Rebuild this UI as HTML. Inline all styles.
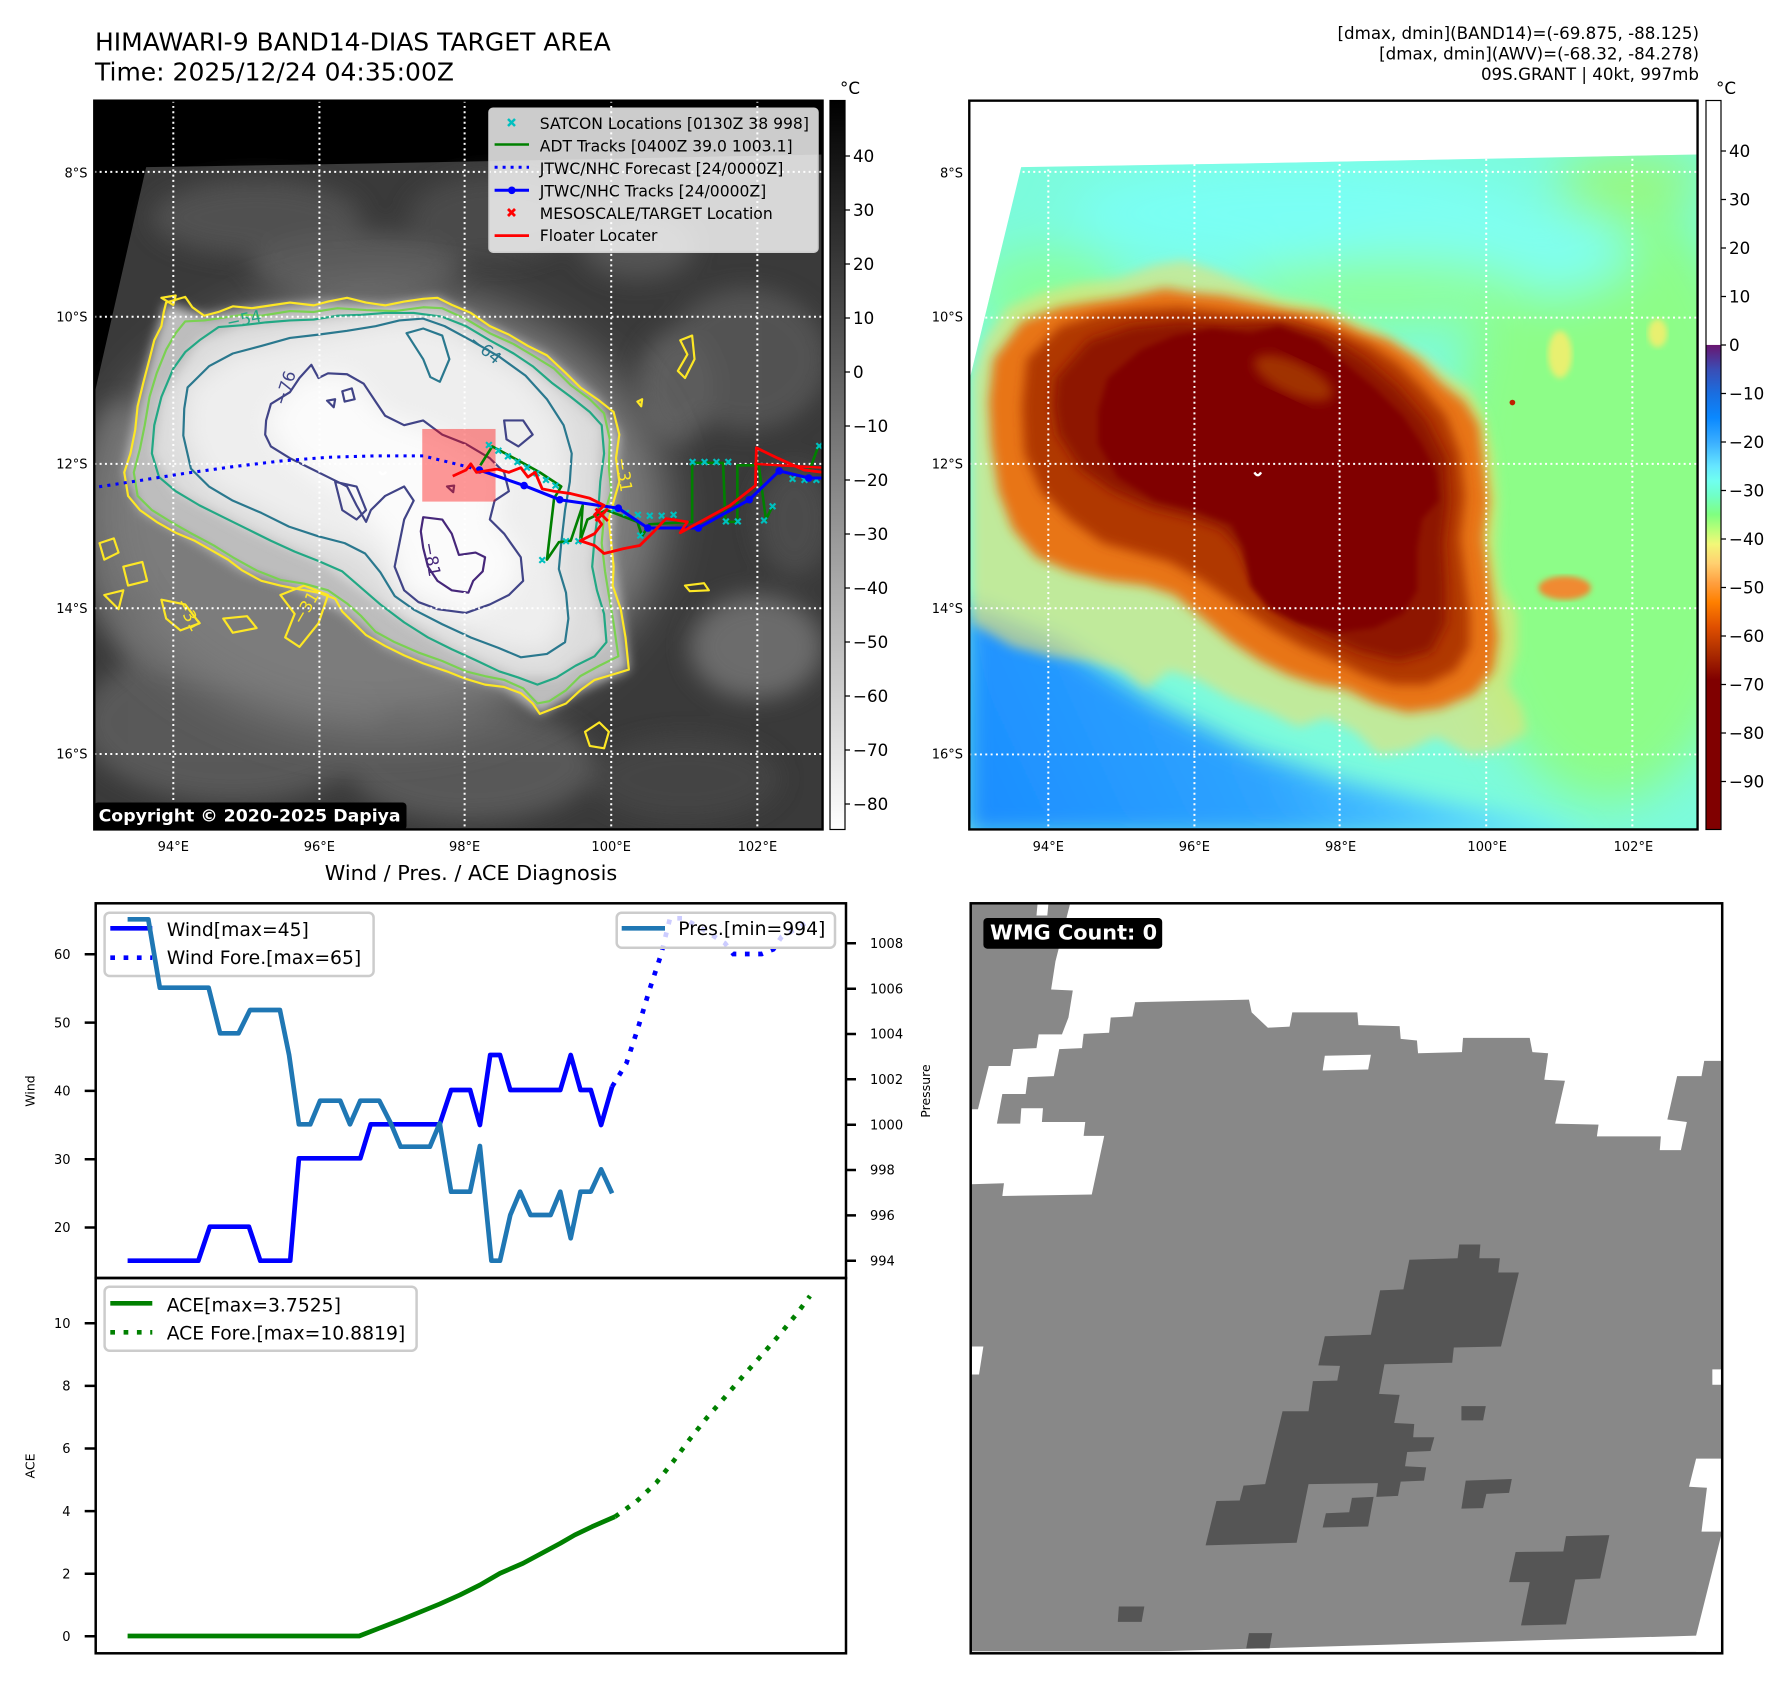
<!DOCTYPE html>
<html><head><meta charset="utf-8">
<style>
html,body{margin:0;padding:0;background:#fff;}
svg{display:block;}
text{font-family:"DejaVu Sans","Liberation Sans",sans-serif;}
</style></head><body>
<svg width="1788" height="1690" viewBox="0 0 1788 1690" xmlns="http://www.w3.org/2000/svg">
<defs>
 <clipPath id="clipM"><rect x="9" y="12" width="1530" height="1545"/></clipPath>
 <clipPath id="clipW"><rect x="57" y="27" width="1386" height="1466"/></clipPath>
 <filter id="b6" x="-10%" y="-10%" width="120%" height="120%"><feGaussianBlur stdDeviation="6"/></filter>
 <filter id="b12" x="-10%" y="-10%" width="120%" height="120%"><feGaussianBlur stdDeviation="12"/></filter>
 <filter id="b25" x="-20%" y="-20%" width="140%" height="140%"><feGaussianBlur stdDeviation="25"/></filter>
 <filter id="b50" x="-30%" y="-30%" width="160%" height="160%"><feGaussianBlur stdDeviation="50"/></filter>
 <linearGradient id="cbL" x1="0" y1="0" x2="0" y2="1"><stop offset="0" stop-color="#000"/><stop offset="1" stop-color="#fff"/></linearGradient>
 <linearGradient id="cbR" x1="0" y1="0" x2="0" y2="1">
  <stop offset="0" stop-color="#fff"/><stop offset="0.3350" stop-color="#fff"/>
  <stop offset="0.3354" stop-color="#6a1670"/><stop offset="0.3687" stop-color="#3a4db5"/>
  <stop offset="0.4019" stop-color="#1a6ee0"/><stop offset="0.4352" stop-color="#0a88ff"/>
  <stop offset="0.4684" stop-color="#3aaeff"/><stop offset="0.5017" stop-color="#66e6ff"/>
  <stop offset="0.5217" stop-color="#70fff0"/><stop offset="0.5416" stop-color="#70ffc8"/>
  <stop offset="0.5682" stop-color="#80ff80"/><stop offset="0.5882" stop-color="#b8ff78"/>
  <stop offset="0.6082" stop-color="#f2f878"/><stop offset="0.6348" stop-color="#ffd070"/>
  <stop offset="0.6614" stop-color="#ffa040"/><stop offset="0.6880" stop-color="#ff8000"/>
  <stop offset="0.7213" stop-color="#e05000"/><stop offset="0.7545" stop-color="#b03000"/>
  <stop offset="0.7944" stop-color="#800000"/><stop offset="1" stop-color="#800000"/>
 </linearGradient>
 <linearGradient id="blueG" gradientUnits="userSpaceOnUse" x1="0" y1="1557" x2="1100" y2="1050">
  <stop offset="0" stop-color="#1a8cff"/><stop offset="0.5" stop-color="#2ea4ff"/><stop offset="1" stop-color="#6ef0ff"/>
 </linearGradient>
</defs>

<!-- ================= TITLES ================= -->
<text x="95" y="50.7" font-size="25">HIMAWARI-9 BAND14-DIAS TARGET AREA</text>
<text x="95" y="80.7" font-size="25">Time: 2025/12/24 04:35:00Z</text>
<text x="1699" y="39" font-size="16.7" text-anchor="end">[dmax, dmin](BAND14)=(-69.875, -88.125)</text>
<text x="1699" y="59.5" font-size="16.7" text-anchor="end">[dmax, dmin](AWV)=(-68.32, -84.278)</text>
<text x="1699" y="80" font-size="16.7" text-anchor="end">09S.GRANT | 40kt, 997mb</text>
<text x="840" y="94" font-size="16.7">°C</text>
<text x="1716" y="94" font-size="16.7">°C</text>

<!-- ================= LEFT MAP ================= -->
<g transform="translate(90,95) scale(0.476,0.4717)">
 <g clip-path="url(#clipM)">
  <rect x="0" y="0" width="1600" height="1600" fill="#000"/>
  <polygon points="118,153 600,145 1000,137 1545,126 1545,1560 8,1560 8,640" fill="#3a3a3a"/>
  <g filter="url(#b25)" opacity="0.85">
   <ellipse cx="350" cy="260" rx="220" ry="80" fill="#555"/>
   <ellipse cx="560" cy="360" rx="220" ry="70" fill="#5e5e5e"/>
   <ellipse cx="850" cy="260" rx="180" ry="90" fill="#4e4e4e"/>
   <ellipse cx="1150" cy="320" rx="120" ry="70" fill="#595959"/>
   <ellipse cx="1380" cy="560" rx="170" ry="150" fill="#585858"/>
   <ellipse cx="1230" cy="620" rx="80" ry="120" fill="#636363"/>
   <ellipse cx="1400" cy="1170" rx="140" ry="110" fill="#747474"/>
   <ellipse cx="1480" cy="900" rx="80" ry="120" fill="#505050"/>
   <ellipse cx="300" cy="1330" rx="320" ry="170" fill="#5e5e5e"/>
   <ellipse cx="800" cy="1420" rx="260" ry="120" fill="#5e5e5e"/>
   <ellipse cx="1250" cy="1450" rx="200" ry="90" fill="#464646"/>
   <ellipse cx="60" cy="900" rx="80" ry="250" fill="#6a6a6a"/>
   <ellipse cx="300" cy="1150" rx="250" ry="90" fill="#707070"/>
  </g>
  <ellipse cx="610" cy="880" rx="600" ry="470" fill="#7c7c7c" filter="url(#b50)"/>
  <path filter="url(#b12)" fill="#bdbdbd" d="M160,440 L240,468 L340,452 L500,438 L620,446 L730,430 L840,490 L960,552 L1070,648 L1112,720 L1100,862 L1095,950 L1115,1090 L1132,1218 L1030,1262 L945,1312 L870,1255 L750,1222 L620,1168 L530,1095 L440,1048 L320,1008 L220,945 L105,880 L72,800 L100,660 L135,520 Z"/>
  <path filter="url(#b12)" fill="#dcdcdc" d="M230,520 L320,488 L470,476 L620,462 L740,470 L890,548 L1010,640 L1075,700 L1068,880 L1055,1000 L1085,1160 L980,1235 L900,1235 L760,1175 L610,1080 L480,988 L330,920 L180,840 L130,760 L150,640 Z"/>
  <path filter="url(#b25)" fill="#eeeeee" d="M205,620 L300,548 L480,508 L650,478 L745,490 L915,595 L995,700 L1008,820 L985,1005 L1005,1110 L960,1185 L858,1172 L682,1092 L578,972 L418,915 L250,830 L196,722 Z"/>
  <path filter="url(#b25)" fill="#fbfbfb" d="M370,690 L440,600 L540,592 L620,680 L740,720 L870,800 L850,900 L905,980 L880,1060 L790,1098 L660,1050 L640,960 L560,870 L420,770 Z"/>
  <!-- contours -->
  <g fill="none" stroke-linejoin="round" stroke-width="4.6">
   <path stroke="#fde725" d="M160,440 L200,428 L215,450 L240,468 L270,460 L300,448 L340,452 L380,446 L420,440 L470,446 L500,438 L540,430 L580,440 L620,446 L660,438 L700,432 L730,430 L760,445 L800,462 L840,490 L880,508 L920,532 L960,552 L1000,590 L1030,620 L1070,648 L1100,672 L1112,720 L1105,770 L1112,820 L1100,862 L1090,900 L1095,950 L1100,1000 L1098,1040 L1115,1090 L1125,1150 L1132,1218 L1100,1228 L1060,1240 L1030,1262 L1000,1290 L975,1300 L945,1312 L930,1290 L905,1268 L870,1255 L830,1250 L790,1238 L750,1222 L700,1205 L660,1188 L620,1168 L580,1145 L555,1120 L530,1095 L515,1068 L480,1055 L440,1048 L400,1040 L360,1030 L320,1008 L290,985 L255,965 L220,945 L180,928 L140,905 L105,880 L80,850 L72,800 L85,760 L95,710 L100,660 L112,610 L125,560 L135,520 L150,490 L155,460 Z"/>
   <path stroke="#fde725" d="M20,950 L50,940 L60,970 L30,985 Z M70,1000 L110,990 L120,1030 L80,1040 Z M30,1060 L70,1050 L60,1090 Z M150,1070 L200,1080 L230,1120 L190,1135 L160,1110 Z M280,1110 L330,1105 L350,1130 L300,1140 Z M400,1060 L450,1040 L500,1060 L480,1120 L440,1170 L410,1150 L430,1100 Z M1240,520 L1265,510 L1270,560 L1250,600 L1235,585 L1255,550 Z M1250,1040 L1290,1035 L1300,1050 L1260,1052 Z M1040,1350 L1070,1330 L1090,1350 L1080,1385 L1050,1380 Z M150,430 L180,425 L175,445 Z M1150,650 L1160,645 L1158,660 Z"/>
   <path stroke="#7ad151" d="M200,480 L240,478 L280,472 L320,466 L360,468 L420,458 L470,460 L520,452 L580,456 L640,458 L700,450 L740,452 L790,475 L840,505 L890,528 L930,552 L975,580 L1010,615 L1050,645 L1080,675 L1092,730 L1090,790 L1095,840 L1080,890 L1075,950 L1082,1010 L1090,1060 L1100,1120 L1110,1190 L1070,1210 L1030,1232 L1000,1262 L965,1285 L940,1290 L910,1258 L870,1240 L830,1232 L790,1222 L740,1200 L690,1182 L640,1160 L600,1138 L570,1105 L540,1078 L500,1050 L450,1036 L400,1028 L350,1008 L300,980 L260,955 L210,928 L170,905 L130,880 L100,850 L92,800 L105,750 L115,700 L125,640 L140,590 L160,540 L180,505 Z"/>
   <path stroke="#22a884" d="M230,520 L270,492 L320,488 L370,482 L420,478 L470,476 L520,468 L570,466 L620,462 L680,462 L740,470 L790,490 L840,520 L890,548 L930,575 L970,610 L1010,640 L1050,672 L1075,700 L1080,760 L1072,820 L1068,880 L1060,940 L1055,1000 L1065,1050 L1080,1100 L1085,1160 L1060,1190 L1020,1210 L980,1235 L940,1250 L900,1235 L860,1222 L810,1198 L760,1175 L710,1150 L660,1118 L610,1080 L570,1045 L530,1010 L480,988 L430,968 L380,945 L330,920 L280,895 L230,870 L180,840 L145,810 L130,760 L135,700 L150,640 L175,580 L200,545 Z"/>
   <path stroke="#2a788e" d="M205,620 L250,575 L300,548 L360,532 L420,515 L480,508 L540,500 L600,490 L650,478 L700,474 L745,490 L800,520 L860,555 L915,595 L960,645 L995,700 L1012,760 L1008,820 L998,880 L990,950 L985,1005 L1000,1055 L1005,1110 L998,1160 L960,1185 L905,1192 L858,1172 L800,1150 L740,1122 L682,1092 L640,1062 L610,1012 L578,972 L535,950 L478,935 L418,915 L360,886 L300,860 L250,830 L212,792 L196,722 L198,665 Z M665,505 L700,495 L740,510 L755,560 L735,608 L715,598 L700,560 Z"/>
   <path stroke="#414487" d="M370,690 L380,655 L420,630 L440,600 L465,572 L480,600 L500,590 L540,592 L575,612 L600,650 L620,680 L660,700 L700,690 L740,720 L790,740 L840,770 L870,800 L880,840 L850,860 L840,900 L870,930 L905,980 L910,1030 L880,1060 L840,1080 L790,1098 L730,1090 L690,1075 L660,1050 L640,1000 L650,950 L660,900 L680,860 L660,830 L620,850 L590,880 L580,905 L560,870 L540,830 L500,810 L460,790 L420,770 L380,745 L368,720 Z M530,628 L550,622 L556,645 L535,650 Z M498,648 L515,645 L512,662 Z M870,690 L910,690 L930,720 L900,745 L875,730 Z M750,830 L765,828 L763,842 Z M515,820 L560,830 L580,880 L560,900 L530,880 Z"/>
   <path stroke="#46277a" d="M700,895 L740,900 L760,930 L775,975 L810,970 L830,980 L825,1010 L805,1030 L795,1055 L760,1050 L730,1030 L710,1000 L700,960 L695,925 Z"/>
  </g>
  <g font-size="35">
   <text transform="translate(290,495) rotate(-12)" fill="#22a884">−54</text>
   <text transform="translate(795,525) rotate(40)" fill="#2a788e">−64</text>
   <text transform="translate(410,660) rotate(-72)" fill="#414487">−76</text>
   <text transform="translate(700,950) rotate(80)" fill="#46277a">−81</text>
   <text transform="translate(1105,770) rotate(82)" fill="#fde725">−31</text>
   <text transform="translate(180,1075) rotate(62)" fill="#fde725">−31</text>
   <text transform="translate(445,1125) rotate(-60)" fill="#fde725">−31</text>
  </g>
  <path d="M608,798 Q615,810 622,798" stroke="#fff" stroke-width="5" fill="none"/>
  <!-- gridlines -->
  <g stroke="#fff" stroke-width="4.2" stroke-dasharray="4.2 7" fill="none">
   <path d="M175,12 V1557 M482,12 V1557 M787,12 V1557 M1095,12 V1557 M1402,12 V1557"/>
   <path d="M9,163 H1540 M9,470 H1540 M9,782 H1540 M9,1088 H1540 M9,1397 H1540"/>
  </g>
  <!-- floater box -->
  <rect x="698" y="708" width="154" height="154" fill="#ff0000" fill-opacity="0.4"/>
  <!-- forecast dotted -->
  <path d="M818,795 L780,785 L700,765 L600,765 L500,768 L400,776 L300,788 L200,802 L100,818 L10,832" fill="none" stroke="#0000ff" stroke-width="6.5" stroke-dasharray="6.5 10.9"/>
  <!-- ADT green -->
  <path d="M820,785 L845,745 L900,775 L945,800 L990,830 L975,855 L960,985 L985,948 L1010,945 L1035,870 L1030,945 L1045,900 L1085,880 L1150,905 L1160,935 L1175,910 L1265,905 L1265,780 L1330,780 L1335,905 L1360,905 L1360,785 L1405,785 L1420,900 L1435,870 M1510,800 L1530,745 L1545,740" fill="none" stroke="#008000" stroke-width="5.5" stroke-linejoin="round"/>
  <!-- SATCON cyan x -->
  <path stroke="#00bfbf" stroke-width="4.5" fill="none" d="M832,736 l12,12 m0,-12 l-12,12 M852,748 l12,12 m0,-12 l-12,12 M872,760 l12,12 m0,-12 l-12,12 M892,772 l12,12 m0,-12 l-12,12 M912,784 l12,12 m0,-12 l-12,12 M932,796 l12,12 m0,-12 l-12,12 M952,810 l12,12 m0,-12 l-12,12 M972,822 l12,12 m0,-12 l-12,12 M1095,872 l12,12 m0,-12 l-12,12 M1120,880 l12,12 m0,-12 l-12,12 M1145,884 l12,12 m0,-12 l-12,12 M1170,886 l12,12 m0,-12 l-12,12 M1195,886 l12,12 m0,-12 l-12,12 M1220,884 l12,12 m0,-12 l-12,12 M1260,772 l12,12 m0,-12 l-12,12 M1285,772 l12,12 m0,-12 l-12,12 M1310,772 l12,12 m0,-12 l-12,12 M1335,772 l12,12 m0,-12 l-12,12 M1330,898 l12,12 m0,-12 l-12,12 M1355,898 l12,12 m0,-12 l-12,12 M1410,896 l12,12 m0,-12 l-12,12 M1428,866 l12,12 m0,-12 l-12,12 M1470,808 l12,12 m0,-12 l-12,12 M1495,810 l12,12 m0,-12 l-12,12 M1520,810 l12,12 m0,-12 l-12,12 M1526,738 l12,12 m0,-12 l-12,12 M944,980 l12,12 m0,-12 l-12,12 M994,940 l12,12 m0,-12 l-12,12 M1150,928 l12,12 m0,-12 l-12,12 M1020,940 l12,12 m0,-12 l-12,12"/>
  <!-- JTWC track -->
  <polyline points="818,795 912,828 987,858 1110,876 1172,918 1278,918 1385,858 1448,797 1510,812 1545,812" fill="none" stroke="#0000ff" stroke-width="6.5"/>
  <g fill="#0000ff">
   <circle cx="818" cy="795" r="8"/><circle cx="912" cy="828" r="8"/><circle cx="987" cy="858" r="8"/><circle cx="1110" cy="876" r="8"/><circle cx="1172" cy="918" r="8"/><circle cx="1278" cy="918" r="8"/><circle cx="1385" cy="858" r="8"/><circle cx="1448" cy="797" r="8"/><circle cx="1510" cy="812" r="8"/>
  </g>
  <!-- floater red -->
  <polyline points="762,808 790,795 800,782 812,800 855,793 880,800 905,790 920,810 935,800 950,835 975,840 1010,845 1050,855 1080,870 1060,890 1075,910 1060,930 1030,945 1060,955 1080,972 1120,962 1155,955 1185,925 1210,898 1255,905 1240,928 1300,895 1345,870 1398,828 1400,748 1445,770 1500,795 1540,800" fill="none" stroke="#ff0000" stroke-width="6" stroke-linejoin="round"/>
  <path d="M1395,782 L1540,790" stroke="#ff0000" stroke-width="5" fill="none"/>
  <path d="M1062,877 l26,26 m0,-26 l-26,26" stroke="#ff0000" stroke-width="6"/>
 </g>
 <rect x="9" y="12" width="1530" height="1545" fill="none" stroke="#000" stroke-width="5"/>
</g>
<!-- left map legend -->
<rect x="489" y="108.2" width="329" height="144" rx="4" fill="#fff" fill-opacity="0.8" stroke="#cccccc" stroke-width="1.5"/>
<g font-size="15.6">
 <text x="539.8" y="129">SATCON Locations [0130Z 38 998]</text>
 <text x="539.8" y="151.6">ADT Tracks [0400Z 39.0 1003.1]</text>
 <text x="539.8" y="173.8">JTWC/NHC Forecast [24/0000Z]</text>
 <text x="539.8" y="196.4">JTWC/NHC Tracks [24/0000Z]</text>
 <text x="539.8" y="219">MESOSCALE/TARGET Location</text>
 <text x="539.8" y="241.2">Floater Locater</text>
</g>
<path d="M508,119 l7,7 m0,-7 l-7,7" stroke="#00bfbf" stroke-width="2.5"/>
<line x1="494.6" y1="144.5" x2="529" y2="144.5" stroke="#008000" stroke-width="2.6"/>
<line x1="494.6" y1="167.2" x2="529" y2="167.2" stroke="#0000ff" stroke-width="3" stroke-dasharray="3 5"/>
<line x1="494.6" y1="190.3" x2="529" y2="190.3" stroke="#0000ff" stroke-width="3"/>
<circle cx="511.8" cy="190.3" r="3.8" fill="#0000ff"/>
<path d="M508,209 l7,7 m0,-7 l-7,7" stroke="#ff0000" stroke-width="2.8"/>
<line x1="494.6" y1="235.6" x2="529" y2="235.6" stroke="#ff0000" stroke-width="2.8"/>
<!-- copyright -->
<rect x="94" y="802.5" width="312.5" height="27.5" rx="4" fill="#000"/>
<text x="98.6" y="821.5" font-size="17.3" font-weight="bold" fill="#fff" textLength="302" lengthAdjust="spacingAndGlyphs">Copyright © 2020-2025 Dapiya</text>

<!-- map tick labels -->
<g font-size="13" text-anchor="end">
 <text x="87.5" y="177.4">8°S</text><text x="87.5" y="321.5">10°S</text><text x="87.5" y="468.6">12°S</text><text x="87.5" y="612.9">14°S</text><text x="87.5" y="758.7">16°S</text>
 <text x="963" y="177.4">8°S</text><text x="963" y="321.5">10°S</text><text x="963" y="468.6">12°S</text><text x="963" y="612.9">14°S</text><text x="963" y="758.7">16°S</text>
</g>
<g font-size="13" text-anchor="middle">
 <text x="173.3" y="851">94°E</text><text x="319.4" y="851">96°E</text><text x="464.6" y="851">98°E</text><text x="611.2" y="851">100°E</text><text x="757.4" y="851">102°E</text>
 <text x="1048.3" y="851">94°E</text><text x="1194.4" y="851">96°E</text><text x="1340.6" y="851">98°E</text><text x="1487.2" y="851">100°E</text><text x="1633.4" y="851">102°E</text>
</g>

<!-- left colorbar -->
<rect x="830" y="100.5" width="15" height="729" fill="url(#cbL)" stroke="#000" stroke-width="1.2"/>
<g stroke="#000" stroke-width="1.3">
 <path d="M845,156 h5 M845,210 h5 M845,264 h5 M845,318 h5 M845,372 h5 M845,426 h5 M845,480 h5 M845,534 h5 M845,588 h5 M845,642 h5 M845,696 h5 M845,750 h5 M845,804 h5"/>
</g>
<g font-size="16.7">
 <text x="853" y="162">40</text><text x="853" y="216">30</text><text x="853" y="270">20</text><text x="853" y="324">10</text><text x="853" y="378">0</text>
 <text x="853" y="432">−10</text><text x="853" y="486">−20</text><text x="853" y="540">−30</text><text x="853" y="594">−40</text><text x="853" y="648">−50</text>
 <text x="853" y="702">−60</text><text x="853" y="756">−70</text><text x="853" y="810">−80</text>
</g>

<!-- ================= RIGHT MAP ================= -->
<g transform="translate(965,95) scale(0.476,0.4717)">
 <g clip-path="url(#clipM)">
  <rect x="0" y="0" width="1600" height="1600" fill="#fff"/>
  <clipPath id="dataR"><polygon points="118,153 600,145 1000,137 1545,126 1545,1560 8,1560 8,610"/></clipPath>
  <g clip-path="url(#dataR)">
   <rect x="0" y="100" width="1600" height="1500" fill="#7cfbdc"/>
   <g filter="url(#b50)">
    <ellipse cx="1350" cy="850" rx="330" ry="650" fill="#8dfd88"/>
    <ellipse cx="700" cy="250" rx="480" ry="110" fill="#7afff4"/>
    <ellipse cx="1100" cy="330" rx="300" ry="100" fill="#80fff0"/>
    <ellipse cx="880" cy="420" rx="320" ry="70" fill="#8eff96"/>
    <ellipse cx="180" cy="420" rx="160" ry="90" fill="#88ff9c"/>
    <ellipse cx="1400" cy="180" rx="160" ry="60" fill="#98f880"/>
   </g>
   <path filter="url(#b25)" fill="url(#blueG)" d="M0,1080 L200,1160 L400,1290 L600,1390 L800,1455 L1000,1500 L1200,1540 L1320,1570 L0,1570 Z"/>
   <ellipse cx="1260" cy="1045" rx="55" ry="25" fill="#f08a30" filter="url(#b6)"/>
   <ellipse cx="1250" cy="550" rx="25" ry="50" fill="#e8f070" filter="url(#b6)"/>
   <ellipse cx="1455" cy="505" rx="20" ry="30" fill="#e8f070" filter="url(#b6)"/>
   <circle cx="1150" cy="652" r="6" fill="#c02000"/>
   <path filter="url(#b12)" fill="#eee070" fill-opacity="0.6" d="M15,600 L40,520 L90,450 L160,420 L240,400 L320,390 L400,360 L460,350 L520,370 L580,395 L660,430 L740,445 L800,470 L860,495 L920,530 L970,555 L1010,590 L1060,625 L1090,680 L1110,760 L1120,860 L1115,960 L1125,1040 L1160,1100 L1160,1180 L1140,1250 L1170,1300 L1180,1350 L1120,1390 L1060,1400 L990,1360 L930,1390 L870,1400 L820,1350 L760,1320 L700,1340 L640,1310 L560,1280 L490,1240 L430,1220 L380,1260 L330,1220 L260,1200 L180,1190 L100,1170 L15,1120 Z"/>
   <path filter="url(#b12)" fill="#e87418" d="M60,560 L120,480 L200,450 L260,440 L330,430 L420,410 L480,420 L540,425 L610,440 L680,455 L760,465 L830,500 L890,520 L950,560 L1000,610 L1050,650 L1080,700 L1090,780 L1100,860 L1090,940 L1100,1010 L1110,1080 L1120,1150 L1110,1220 L1070,1270 L1000,1300 L930,1310 L860,1290 L800,1260 L740,1250 L680,1230 L620,1200 L560,1160 L500,1110 L440,1060 L380,1040 L300,1030 L220,1010 L150,980 L100,920 L70,840 L55,740 L50,650 Z"/>
   <path filter="url(#b12)" fill="#b03800" d="M130,560 L200,490 L280,465 L360,455 L450,450 L540,460 L620,470 L700,475 L780,500 L850,530 L910,570 L960,620 L1010,680 L1040,760 L1050,850 L1040,940 L1050,1020 L1060,1100 L1060,1170 L1030,1220 L970,1250 L900,1250 L840,1230 L780,1200 L710,1170 L640,1130 L570,1080 L500,1030 L430,990 L360,970 L290,950 L220,900 L160,840 L125,760 L120,660 Z"/>
   <path filter="url(#b12)" fill="#8e1200" d="M190,600 L260,520 L350,490 L450,480 L560,485 L660,480 L760,510 L840,560 L910,620 L970,690 L1010,770 L1015,860 L1005,950 L1010,1040 L1010,1120 L980,1180 L910,1200 L830,1180 L740,1140 L670,1100 L610,1040 L575,960 L540,920 L470,895 L390,875 L310,840 L240,790 L195,720 L185,660 Z"/>
   <path filter="url(#b6)" fill="#800000" d="M300,600 L370,540 L440,510 L520,495 L600,505 L660,490 L740,520 L800,570 L860,620 L920,680 L960,740 L990,800 L995,860 L960,900 L950,960 L950,1050 L920,1100 L860,1130 L780,1140 L700,1120 L640,1090 L600,1040 L585,960 L560,910 L480,880 L400,860 L320,810 L280,740 L280,670 Z"/>
   <ellipse cx="690" cy="600" rx="90" ry="35" transform="rotate(25 690 600)" fill="#a03000" filter="url(#b12)"/>
   <path d="M608,800 Q615,812 622,800" stroke="#fff" stroke-width="5" fill="none"/>
  </g>
  <g stroke="#fff" stroke-width="4.2" stroke-dasharray="4.2 7" fill="none">
   <path d="M175,12 V1557 M482,12 V1557 M787,12 V1557 M1095,12 V1557 M1402,12 V1557"/>
   <path d="M9,163 H1540 M9,472 H1540 M9,782 H1540 M9,1088 H1540 M9,1398 H1540"/>
  </g>
 </g>
 <rect x="9" y="12" width="1530" height="1545" fill="none" stroke="#000" stroke-width="5"/>
</g>
<!-- right colorbar -->
<rect x="1706" y="100.5" width="15" height="729" fill="url(#cbR)" stroke="#000" stroke-width="1.2"/>
<g stroke="#000" stroke-width="1.3">
 <path d="M1721,151 h5 M1721,199.5 h5 M1721,248 h5 M1721,296.5 h5 M1721,345 h5 M1721,393.5 h5 M1721,442 h5 M1721,490.5 h5 M1721,539 h5 M1721,587.5 h5 M1721,636 h5 M1721,684.5 h5 M1721,733 h5 M1721,781.5 h5"/>
</g>
<g font-size="16.7">
 <text x="1729" y="157">40</text><text x="1729" y="205.5">30</text><text x="1729" y="254">20</text><text x="1729" y="302.5">10</text><text x="1729" y="351">0</text>
 <text x="1729" y="399.5">−10</text><text x="1729" y="448">−20</text><text x="1729" y="496.5">−30</text><text x="1729" y="545">−40</text><text x="1729" y="593.5">−50</text>
 <text x="1729" y="642">−60</text><text x="1729" y="690.5">−70</text><text x="1729" y="739">−80</text><text x="1729" y="787.5">−90</text>
</g>

<!-- ================= WIND / PRES / ACE ================= -->
<text x="471" y="880" font-size="20.8" text-anchor="middle">Wind / Pres. / ACE Diagnosis</text>
<rect x="95.7" y="903.3" width="750.3" height="374.7" fill="#fff"/>
<rect x="95.7" y="1278" width="750.3" height="375.3" fill="#fff"/>
<!-- wind -->
<polyline fill="none" stroke="#0000ff" stroke-width="4.7" stroke-linejoin="round" points="127.6,1260.7 198.3,1260.7 209.8,1226.7 248.9,1226.7 260.3,1260.7 290.2,1260.7 298.9,1158.3 360.3,1158.3 370.7,1124.3 439.7,1124.3 451.1,1090 470.1,1090 479.9,1125 490.2,1055 500,1055 510.3,1090 560.3,1090 570.7,1055 580.5,1090 590.8,1090 601.1,1125 612.1,1086.7"/>
<polyline fill="none" stroke="#0000ff" stroke-width="4.7" stroke-dasharray="4.7 8.6" points="612.1,1086.7 626.4,1063.3 637.9,1028.3 649.4,990 660.9,955 670,918.3 683.3,918.3 704,930 725,943.3 733.3,954 761.7,954 773.3,949.3 781.7,936.7 800,926.7 810,920"/>
<!-- wind legend -->
<rect x="104.6" y="912.7" width="269" height="63.3" rx="5" fill="#fff" fill-opacity="0.8" stroke="#cccccc" stroke-width="2.5"/>
<line x1="110.3" y1="928.3" x2="152.3" y2="928.3" stroke="#0000ff" stroke-width="4.7"/>
<line x1="110.3" y1="957.7" x2="152.3" y2="957.7" stroke="#0000ff" stroke-width="4.7" stroke-dasharray="4.7 8.6"/>
<text x="166.7" y="936" font-size="18.75">Wind[max=45]</text>
<text x="166.7" y="964" font-size="18.75">Wind Fore.[max=65]</text>
<!-- pressure -->
<polyline fill="none" stroke="#1f77b4" stroke-width="4.7" stroke-linejoin="round" points="127.6,919.3 148.3,919.3 159.8,987.7 208.6,987.7 220.1,1033.3 238.5,1033.3 250,1010 279.9,1010 289.1,1055 298.9,1124.3 310.3,1124.3 320.1,1100.7 340.2,1100.7 350,1124.3 360.3,1100.7 379.3,1100.7 390.8,1123.3 400.6,1146.7 429.9,1146.7 439.7,1123.3 451.1,1191.7 470.1,1191.7 479.9,1146 491.4,1260.7 500,1260.7 510.3,1215 520.1,1191.7 530.5,1215 550.6,1215 560.3,1191.7 570.7,1238.3 580.5,1191.7 590.8,1191.7 601.1,1169.3 612.1,1193.3"/>
<rect x="616.7" y="912.7" width="218.3" height="35" rx="5" fill="#fff" fill-opacity="0.8" stroke="#cccccc" stroke-width="2.5"/>
<line x1="621.7" y1="928.3" x2="665" y2="928.3" stroke="#1f77b4" stroke-width="4.7"/>
<text x="678.3" y="935" font-size="18.75">Pres.[min=994]</text>
<!-- ACE -->
<polyline fill="none" stroke="#008000" stroke-width="4.7" stroke-linejoin="round" points="127.6,1636 359.2,1636 402.3,1619.3 439.7,1604 459.8,1595 479.9,1585 500,1573.3 523,1563.3 560.3,1543.3 574.7,1535 592,1526.7 615,1516.7"/>
<polyline fill="none" stroke="#008000" stroke-width="4.7" stroke-dasharray="4.7 8.6" points="615,1516.7 636.2,1501.7 656.3,1482.7 673.6,1461 689.7,1439.3 706.9,1417.7 725.3,1396.7 743.1,1376 761.5,1355.3 779.9,1334.3 797.1,1313.3 810,1296"/>
<rect x="104.6" y="1286.7" width="312" height="64" rx="5" fill="#fff" fill-opacity="0.8" stroke="#cccccc" stroke-width="2.5"/>
<line x1="110.3" y1="1303.3" x2="152.3" y2="1303.3" stroke="#008000" stroke-width="4.7"/>
<line x1="110.3" y1="1332.3" x2="152.3" y2="1332.3" stroke="#008000" stroke-width="4.7" stroke-dasharray="4.7 8.6"/>
<text x="166.7" y="1311.7" font-size="18.75">ACE[max=3.7525]</text>
<text x="166.7" y="1339.3" font-size="18.75">ACE Fore.[max=10.8819]</text>
<!-- frames -->
<rect x="95.7" y="903.3" width="750.3" height="374.7" fill="none" stroke="#000" stroke-width="2.5"/>
<rect x="95.7" y="1278" width="750.3" height="375.3" fill="none" stroke="#000" stroke-width="2.5"/>
<!-- ticks -->
<g stroke="#000" stroke-width="2.5">
 <path d="M84.7,954.3 h11 M84.7,1022.6 h11 M84.7,1090.9 h11 M84.7,1159.2 h11 M84.7,1227.5 h11"/>
 <path d="M846,943.3 h10 M846,988.7 h10 M846,1034 h10 M846,1079.3 h10 M846,1124.7 h10 M846,1170 h10 M846,1215.4 h10 M846,1260.7 h10"/>
 <path d="M84.7,1636.3 h11 M84.7,1573.7 h11 M84.7,1511.1 h11 M84.7,1448.5 h11 M84.7,1385.9 h11 M84.7,1323.3 h11"/>
</g>
<g font-size="13" text-anchor="end">
 <text x="70.5" y="959">60</text><text x="70.5" y="1027.3">50</text><text x="70.5" y="1095.6">40</text><text x="70.5" y="1163.9">30</text><text x="70.5" y="1232.2">20</text>
 <text x="70.5" y="1641">0</text><text x="70.5" y="1578.4">2</text><text x="70.5" y="1515.8">4</text><text x="70.5" y="1453.2">6</text><text x="70.5" y="1390.6">8</text><text x="70.5" y="1328">10</text>
</g>
<g font-size="13">
 <text x="870" y="948">1008</text><text x="870" y="993.4">1006</text><text x="870" y="1038.7">1004</text><text x="870" y="1084">1002</text><text x="870" y="1129.4">1000</text><text x="870" y="1174.7">998</text><text x="870" y="1220.1">996</text><text x="870" y="1265.4">994</text>
</g>
<text transform="translate(34.5,1091) rotate(-90)" font-size="12.5" text-anchor="middle">Wind</text>
<text transform="translate(34.5,1466) rotate(-90)" font-size="12.5" text-anchor="middle">ACE</text>
<text transform="translate(930,1091) rotate(-90)" font-size="12.5" text-anchor="middle">Pressure</text>

<!-- ================= WMG ================= -->
<g transform="translate(940,890) scale(0.542,0.51)">
 <g clip-path="url(#clipW)">
  <rect x="57" y="27" width="1386" height="1466" fill="#888888"/>
  <g fill="#fff">
   <polygon points="240,27 1443,27 1443,335 1410,335 1405,365 1360,365 1342,450 1378,455 1367,510 1328,510 1330,483 1212,483 1215,460 1135,458 1153,374 1115,372 1122,320 1093,318 1088,290 965,290 963,318 882,320 880,295 850,292 848,267 772,265 770,240 650,240 645,268 605,270 575,240 570,215 360,220 355,248 315,250 312,280 265,282 262,310 220,312 210,365 162,367 158,400 115,400 105,458 148,458 150,428 190,428 188,455 268,455 265,482 303,482 280,597 115,600 118,575 57,577 57,430 70,430 90,345 130,345 135,312 178,310 182,283 225,283 237,250 245,197 205,195 213,140"/>
   <polygon points="180,27 200,27 198,50 178,50"/>
   <polygon points="710,325 795,323 790,352 706,354"/>
   <polygon points="1425,940 1443,940 1443,970 1425,970"/>
   <polygon points="1395,1115 1443,1115 1443,1258 1405,1258 1415,1172 1382,1170"/>
   <polygon points="1443,1258 1443,1493 1395,1493 1395,1462"/>
   <polygon points="400,1493 1395,1462 1443,1462 1443,1493"/>
   <polygon points="57,895 80,895 72,950 57,950"/>
  </g>
  <g fill="#555555">
   <polygon points="958,695 997,695 995,722 1033,722 1030,750 1068,750 1035,895 948,897 945,927 820,930 810,988 848,990 838,1045 875,1047 873,1073 912,1073 905,1100 862,1102 858,1130 897,1132 893,1158 850,1160 845,1188 805,1190 808,1163 680,1165 658,1280 490,1285 510,1198 553,1197 560,1168 600,1165 632,1022 680,1022 688,963 733,962 738,933 698,932 710,875 795,872 812,785 855,783 866,725 955,722"/>
   <polygon points="962,1012 1007,1012 1002,1040 962,1040"/>
   <polygon points="970,1158 1055,1155 1050,1182 1008,1184 1002,1212 962,1213"/>
   <polygon points="760,1192 800,1190 790,1248 706,1250 712,1222 755,1220"/>
   <polygon points="330,1405 377,1405 372,1435 328,1435"/>
   <polygon points="570,1457 613,1457 608,1487 565,1487"/>
   <polygon points="1062,1298 1150,1297 1155,1267 1235,1265 1218,1350 1172,1352 1155,1440 1072,1442 1088,1357 1050,1357"/>
  </g>
 </g>
</g>
<rect x="970.7" y="903.3" width="751.5" height="750" fill="none" stroke="#000" stroke-width="2.5"/>
<rect x="983.4" y="918" width="178.8" height="30.7" rx="4" fill="#000"/>
<text x="990" y="939.5" font-size="20.8" font-weight="bold" fill="#fff">WMG Count: 0</text>
</svg>
</body></html>
